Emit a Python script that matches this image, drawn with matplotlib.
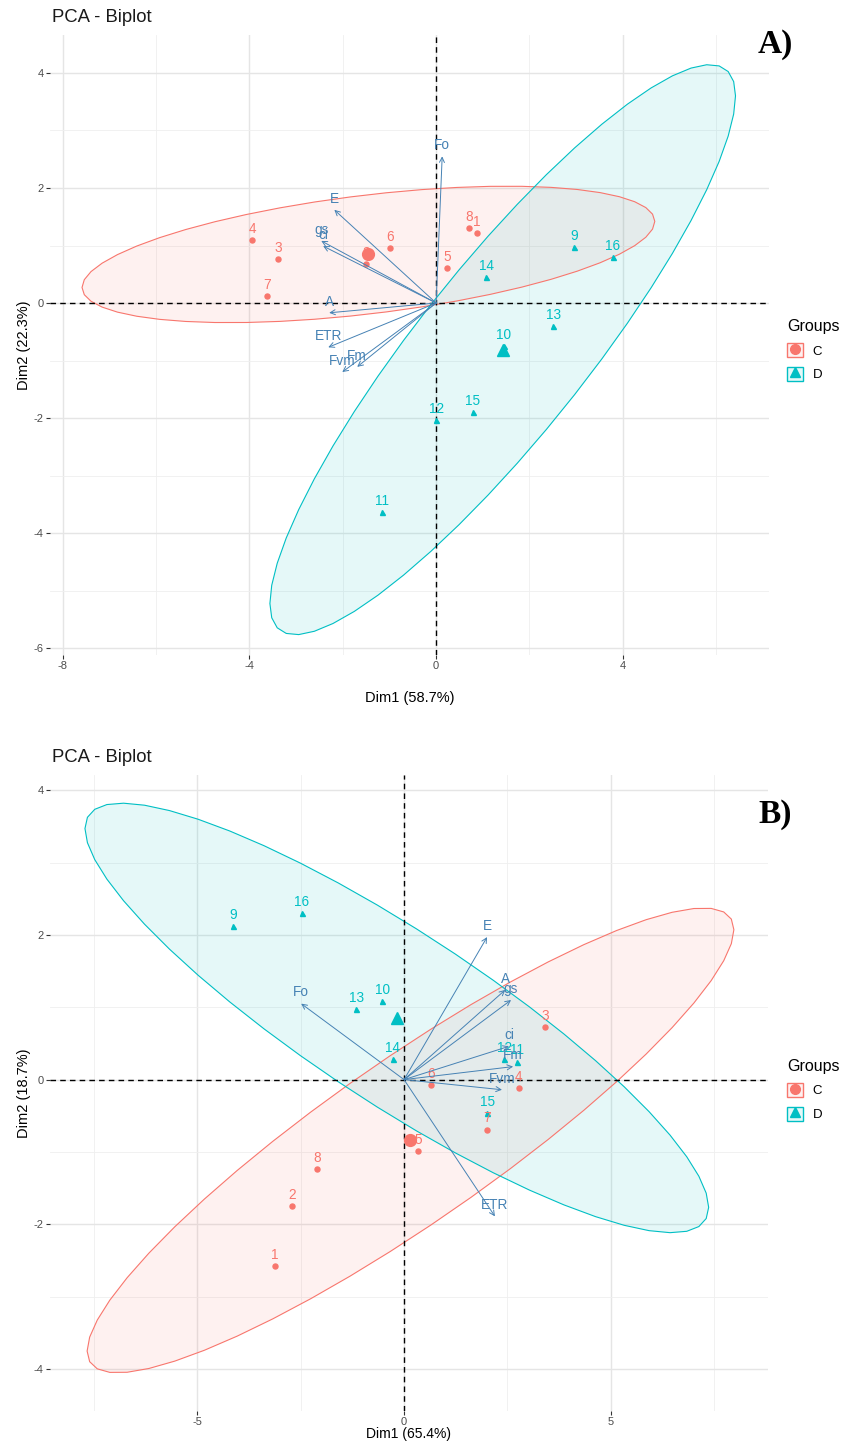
import numpy as np
import matplotlib
matplotlib.use("Agg")
import matplotlib.pyplot as plt
from matplotlib.patches import Polygon, Patch
from matplotlib.lines import Line2D
from matplotlib.legend_handler import HandlerTuple

plt.rcParams['font.family'] = ['Liberation Sans', 'DejaVu Sans']

# ---------------- data ----------------
A_C_labels = ['1', '2', '3', '4', '5', '6', '7', '8']
A_C_x = [0.88, -1.50, -3.38, -3.94, 0.24, -0.99, -3.62, 0.71]
A_C_y = [1.22, 0.68, 0.77, 1.10, 0.61, 0.96, 0.12, 1.30]
A_D_labels = ['9', '10', '11', '12', '13', '14', '15', '16']
A_D_x = [2.96, 1.45, -1.16, 0.00, 2.51, 1.07, 0.79, 3.79]
A_D_y = [0.97, -0.75, -3.63, -2.03, -0.40, 0.45, -1.90, 0.80]

var_names = ['Fo', 'E', 'gs', 'ci', 'A', 'ETR', 'Fvm', 'Fm']
A_var_x = [0.13, -2.18, -2.46, -2.42, -2.29, -2.31, -2.01, -1.69]
A_var_y = [2.55, 1.62, 1.08, 0.99, -0.17, -0.77, -1.20, -1.11]

B_C_labels = ['1', '2', '3', '4', '5', '6', '7', '8']
B_C_x = [-3.12, -2.71, 3.41, 2.78, 0.34, 0.65, 2.01, -2.11]
B_C_y = [-2.58, -1.75, 0.73, -0.12, -0.99, -0.08, -0.69, -1.24]
B_D_labels = ['9', '10', '11', '12', '13', '14', '15', '16']
B_D_x = [-4.14, -0.53, 2.74, 2.42, -1.16, -0.27, 2.01, -2.47]
B_D_y = [2.12, 1.08, 0.25, 0.28, 0.97, 0.28, -0.46, 2.30]

B_var_x = [-2.49, 2.01, 2.59, 2.54, 2.45, 2.20, 2.37, 2.64]
B_var_y = [1.05, 1.97, 1.10, 0.46, 1.24, -1.89, -0.14, 0.18]

group_names = ['C', 'D']
group_colors = ['#F8766D', '#00BFC4']
group_markers = ['o', '^']
var_color = '#4682B4'

panels = [
    dict(Cx=A_C_x, Cy=A_C_y, Cl=A_C_labels, Dx=A_D_x, Dy=A_D_y, Dl=A_D_labels,
         vx=A_var_x, vy=A_var_y, xlab='Dim1 (58.7%)', ylab='Dim2 (22.3%)',
         xlim=(-8.27, 7.13), ylim=(-6.12, 4.66),
         xt=[-8, -4, 0, 4], xm=[-6, -2, 2, 6], yt=[-6, -4, -2, 0, 2, 4], ym=[-5, -3, -1, 1, 3],
         rect=[50/845, 1-655/1444, 719/845, 620/1444], tag='A)', tagy=1-45/1444,
         title_y=1-18/1444, leg_y=1-350/1444, xpad=14, xfs=10.5),
    dict(Cx=B_C_x, Cy=B_C_y, Cl=B_C_labels, Dx=B_D_x, Dy=B_D_y, Dl=B_D_labels,
         vx=B_var_x, vy=B_var_y, xlab='Dim1 (65.4%)', ylab='Dim2 (18.7%)',
         xlim=(-8.57, 8.81), ylim=(-4.58, 4.21),
         xt=[-5, 0, 5], xm=[-7.5, -2.5, 2.5, 7.5], yt=[-4, -2, 0, 2, 4], ym=[-3, -1, 1, 3],
         rect=[50/845, 1-1411/1444, 718/845, 636/1444], tag='B)', tagy=1-815/1444,
         title_y=1-758/1444, leg_y=1-1090/1444, xpad=0, xfs=10),
]


def norm_ellipse(x, y, level=0.95, segments=51):
    x = np.asarray(x); y = np.asarray(y)
    n = len(x)
    cov = np.cov(x, y)
    center = np.array([x.mean(), y.mean()])
    chol = np.linalg.cholesky(cov).T
    dfd = n - 1
    fq = (dfd / 2.0) * ((1 - level) ** (-2.0 / dfd) - 1)
    radius = np.sqrt(2 * fq)
    ang = np.linspace(0, 2 * np.pi, segments)
    unit = np.column_stack([np.cos(ang), np.sin(ang)])
    return center + radius * unit @ chol


fig = plt.figure(figsize=(8.45, 14.44), dpi=100)

for p in panels:
    ax = fig.add_axes(p['rect'])
    groups = [(p['Cx'], p['Cy'], p['Cl']), (p['Dx'], p['Dy'], p['Dl'])]
    for gi, (gx, gy, gl) in enumerate(groups):
        col = group_colors[gi]
        ell = norm_ellipse(gx, gy)
        ax.add_patch(Polygon(ell, closed=True, facecolor=col, alpha=0.1, edgecolor='none', zorder=2))
        ax.add_patch(Polygon(ell, closed=True, facecolor='none', edgecolor=col, lw=0.8, zorder=3))
        ax.plot(gx, gy, ls='none', marker=group_markers[gi], ms=3.6, color=col, zorder=4)
        for xi, yi, li in zip(gx, gy, gl):
            ax.annotate(li, (xi, yi), xytext=(0, 3), textcoords='offset points',
                        ha='center', va='bottom', color=col, fontsize=9.8, zorder=5)
        ax.plot([np.mean(gx)], [np.mean(gy)], ls='none', marker=group_markers[gi], ms=8.5,
                color=col, zorder=4)
    # variable arrows
    for vx, vy, vn in zip(p['vx'], p['vy'], var_names):
        ax.annotate('', xy=(vx, vy), xytext=(0, 0),
                    arrowprops=dict(arrowstyle='->', color=var_color, lw=0.7,
                                    shrinkA=0, shrinkB=0, mutation_scale=9), zorder=6)
        ax.annotate(vn, (vx, vy), xytext=(0, 3), textcoords='offset points',
                    ha='center', va='bottom', color=var_color, fontsize=9.8, zorder=6)
    ax.axhline(0, color='black', ls=(0, (4, 3)), lw=1.0, zorder=3.5)
    ax.axvline(0, color='black', ls=(0, (4, 3)), lw=1.0, zorder=3.5)

    ax.set_xlim(*p['xlim'])
    ax.set_ylim(*p['ylim'])

    ax.set_xticks(p['xt']); ax.set_xticks(p['xm'], minor=True)
    ax.set_yticks(p['yt']); ax.set_yticks(p['ym'], minor=True)
    ax.set_xticklabels([str(v) for v in p['xt']])
    ax.set_yticklabels([str(v) for v in p['yt']])
    ax.grid(True, which='major', color='#E5E5E5', lw=1.0, zorder=0)
    ax.grid(True, which='minor', color='#EFEFEF', lw=0.6, zorder=0)
    ax.set_axisbelow(True)
    for s in ax.spines.values():
        s.set_visible(False)
    ax.tick_params(which='major', length=3, width=0.8, color='#333333', labelsize=8,
                   labelcolor='#4D4D4D', pad=1.5)
    ax.tick_params(which='minor', length=0)
    ax.set_xlabel(p['xlab'], fontsize=p['xfs'], labelpad=p['xpad'])
    ax.set_ylabel(p['ylab'], fontsize=10.5, labelpad=2)

    fig.text(52/845, p['title_y'], 'PCA - Biplot', fontsize=13.3, ha='left', va='center', color='#1A1A1A')
    fig.text(775/845, p['tagy'], p['tag'], fontsize=24, fontweight='bold', ha='center', va='center',
             family=['Liberation Serif', 'DejaVu Serif'])

    handles = []
    for gi in range(2):
        col = group_colors[gi]
        handles.append((Patch(facecolor=matplotlib.colors.to_rgba(col, 0.1), edgecolor=col, lw=1.0),
                        Line2D([], [], ls='none', marker=group_markers[gi], ms=7, color=col)))
    leg = fig.legend(handles, group_names, title='Groups', loc='center left',
                     bbox_to_anchor=(787/845, p['leg_y']), frameon=False, fontsize=9.5,
                     title_fontsize=11.5, handler_map={tuple: HandlerTuple(ndivide=1)},
                     handlelength=1.25, handleheight=1.25, labelspacing=0.7, handletextpad=0.7,
                     borderaxespad=0, borderpad=0)
    leg._legend_box.align = 'left'

fig.savefig('out.png', dpi=100)
